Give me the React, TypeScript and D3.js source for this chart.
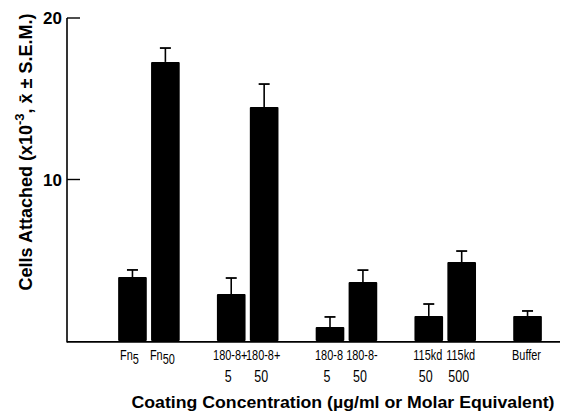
import React from "react";
import * as d3 from "d3";

const categories = ["Fn5", "Fn50", "180-8+ 5", "180-8+ 50", "180-8 5", "180-8- 50", "115kd 50", "115kd 500", "Buffer"];
const groupOf = [0, 0, 1, 1, 2, 2, 3, 3, 4];
const means = [3.96, 17.28, 2.91, 14.49, 0.87, 3.65, 1.55, 4.89, 1.55];
const sems = [0.44, 0.86, 0.99, 1.42, 0.62, 0.74, 0.74, 0.68, 0.31];
const labelLine1 = ["Fn", "Fn", "180-8+", "180-8+", "180-8", "180-8-", "115kd", "115kd", "Buffer"];
const labelSub = ["5", "50", "", "", "", "", "", "", ""];
const labelLine2 = ["", "", "5", "50", "5", "50", "50", "500", ""];
const yTicks = [10, 20];

const W = 564;
const H = 415;

export default function App() {
  const slots: string[] = [];
  categories.forEach((c, i) => {
    if (i > 0 && groupOf[i] !== groupOf[i - 1]) slots.push("gap" + i);
    slots.push(c);
  });
  const x = d3.scaleBand<string>().domain(slots).range([116, 544]);
  const y = d3.scaleLinear().domain([0, 20]).range([341, 18]);
  const bw = x.bandwidth() * 0.87;
  const narrow = "'Liberation Sans', Arial, sans-serif";
  const bold = "'Liberation Sans', Arial, Helvetica, sans-serif";
  const axisX = 67;

  return (
    <svg width={W} height={H} style={{ position: "absolute", left: 0, top: 0, background: "#fff" }}>
      <rect width={W} height={H} fill="#fff" />
      {/* axes */}
      <line x1={axisX} x2={axisX} y1={y(20)} y2={y(0) + 1.5} stroke="#000" strokeWidth={1.6} />
      <line x1={axisX} x2={560} y1={y(0) + 0.8} y2={y(0) + 0.8} stroke="#000" strokeWidth={1.8} />
      {yTicks.map((t) => (
        <g key={t}>
          <line x1={axisX} x2={axisX + 13} y1={y(t)} y2={y(t)} stroke="#000" strokeWidth={1.4} />
          <text x={62} y={y(t)} dy="0.36em" textAnchor="end" fontFamily={bold} fontWeight="bold" fontSize={17}>
            {t}
          </text>
        </g>
      ))}
      {/* bars */}
      {categories.map((c, i) => {
        const cx = (x(c) as number) + x.bandwidth() / 2;
        const top = y(means[i]);
        const cap = y(means[i] + sems[i]);
        return (
          <g key={c}>
            <rect x={cx - bw / 2} y={top} width={bw} height={y(0) - top} fill="#000" rx={1} />
            <line x1={cx} x2={cx} y1={top} y2={cap} stroke="#000" strokeWidth={1.6} />
            <line x1={cx - 5.5} x2={cx + 5.5} y1={cap} y2={cap} stroke="#000" strokeWidth={1.8} />
          </g>
        );
      })}
      {/* x labels */}
      {categories.map((c, i) => {
        const cx = (x(c) as number) + x.bandwidth() / 2;
        return (
          <g key={"l" + c} fontFamily={narrow}>
            <text
              transform={`translate(${cx - (labelSub[i] ? 3 : 1)},360) scale(0.78,1)`}
              textAnchor="middle"
              fontSize={14}
            >
              {labelLine1[i]}
              {labelSub[i] ? (
                <tspan dy={4} fontSize={14}>
                  {labelSub[i]}
                </tspan>
              ) : null}
            </text>
            {labelLine2[i] ? (
              <text transform={`translate(${cx - 3},382) scale(0.78,1)`} textAnchor="middle" fontSize={16}>
                {labelLine2[i]}
              </text>
            ) : null}
          </g>
        );
      })}
      {/* axis titles */}
      <text
        x={343}
        y={408}
        textAnchor="middle"
        fontFamily={bold}
        fontWeight="bold"
        fontSize={17}
        textLength={423}
        lengthAdjust="spacingAndGlyphs"
      >
        Coating Concentration (µg/ml or Molar Equivalent)
      </text>
      <text
        transform={`translate(32, 152) rotate(-90)`}
        textAnchor="middle"
        fontFamily={bold}
        fontWeight="bold"
        fontSize={18}
      >
        Cells Attached (x10
        <tspan dy={-8} fontSize={13}>-3</tspan>
        <tspan dy={8}>, x̄ ± S.E.M.)</tspan>
      </text>
    </svg>
  );
}
